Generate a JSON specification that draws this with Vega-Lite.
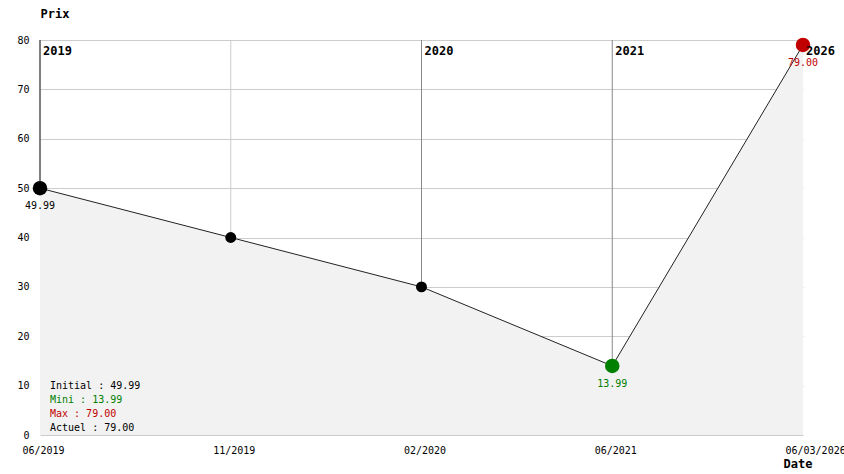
{
  "$schema": "https://vega.github.io/schema/vega-lite/v6.json",
  "width": 763,
  "height": 395,
  "autosize": {"type": "none"},
  "padding": {"left": 40, "top": 40, "right": 41, "bottom": 39},
  "background": "white",
  "config": {
    "font": "DejaVu Sans Mono",
    "view": {"stroke": null},
    "text": {"font": "DejaVu Sans Mono", "fontSize": 10}
  },
  "data": {
    "values": [
      {"date": "06/2019", "prix": 49.99, "role": "initial", "year": "2019", "label": "49.99"},
      {"date": "11/2019", "prix": 40, "role": "normal", "year": null, "label": null},
      {"date": "02/2020", "prix": 30, "role": "normal", "year": "2020", "label": null},
      {"date": "06/2021", "prix": 13.99, "role": "min", "year": "2021", "label": "13.99"},
      {"date": "06/03/2026", "prix": 79.0, "role": "max", "year": "2026", "label": "79.00"}
    ]
  },
  "encoding": {
    "x": {
      "field": "date", "type": "ordinal", "sort": null,
      "scale": {"type": "point", "padding": 0},
      "axis": {
        "title": "Date", "grid": false, "domain": false, "ticks": false,
        "labelAngle": 0, "labelAlign": "left", "labelOffset": -18, "labelPadding": 10,
        "labelFontSize": 10, "labelColor": "black", "labelOverlap": false, "labelBound": false,
        "titleFontWeight": "bold", "titleFontSize": 12, "titleColor": "black",
        "titleX": 743, "titleY": 28, "titleAlign": "left", "titleBaseline": "middle"
      }
    }
  },
  "layer": [
    {
      "mark": {"type": "rule", "strokeWidth": 1},
      "encoding": {
        "y": {
          "field": "prix", "type": "quantitative",
          "scale": {"domain": [0, 80], "nice": false},
          "axis": {
            "title": "Prix", "values": [0, 10, 20, 30, 40, 50, 60, 70, 80],
            "grid": true, "gridColor": "#cccccc", "domain": false, "ticks": false,
            "labelPadding": 11, "labelFontSize": 10, "labelColor": "black",
            "titleAngle": 0, "titleAlign": "left", "titleBaseline": "middle",
            "titleX": 0, "titleY": -27, "titleFontWeight": "bold", "titleFontSize": 12, "titleColor": "black"
          }
        },
        "y2": {"datum": 80},
        "color": {
          "condition": [
            {"test": "datum.role == 'initial'", "value": "black"},
            {"test": "datum.year == null", "value": "#cccccc"}
          ],
          "value": "#888888"
        }
      }
    },
    {
      "mark": {"type": "area", "color": "#f2f2f2", "opacity": 1},
      "encoding": {
        "y": {"field": "prix", "type": "quantitative"}
      }
    },
    {
      "mark": {"type": "line", "color": "#222222", "strokeWidth": 1},
      "encoding": {
        "y": {"field": "prix", "type": "quantitative"}
      }
    },
    {
      "mark": {"type": "point", "filled": true, "opacity": 1},
      "encoding": {
        "y": {"field": "prix", "type": "quantitative"},
        "color": {
          "field": "role", "type": "nominal",
          "scale": {"domain": ["initial", "normal", "min", "max"], "range": ["black", "black", "#008000", "#c00000"]},
          "legend": null
        },
        "size": {
          "condition": {"test": "datum.role == 'normal'", "value": 120},
          "value": 210
        }
      }
    },
    {
      "transform": [{"filter": "datum.label != null"}],
      "mark": {"type": "text", "dy": 18, "align": "center", "baseline": "middle", "fontSize": 10},
      "encoding": {
        "y": {"field": "prix", "type": "quantitative"},
        "text": {"field": "label"},
        "color": {"field": "role", "type": "nominal", "legend": null}
      }
    },
    {
      "transform": [{"filter": "datum.year != null"}],
      "mark": {"type": "text", "dx": 3, "dy": 11, "align": "left", "baseline": "middle", "fontSize": 12, "fontWeight": "bold", "color": "black"},
      "encoding": {
        "y": {"datum": 80, "type": "quantitative"},
        "text": {"field": "year"}
      }
    },
    {
      "data": {"values": [{"date": "06/2019"}]},
      "mark": {"type": "text", "dx": 10, "dy": -49, "align": "left", "baseline": "middle", "fontSize": 10, "color": "black"},
      "encoding": {"y": {"datum": 0, "type": "quantitative"}, "text": {"value": "Initial : 49.99"}}
    },
    {
      "data": {"values": [{"date": "06/2019"}]},
      "mark": {"type": "text", "dx": 10, "dy": -35, "align": "left", "baseline": "middle", "fontSize": 10, "color": "#008000"},
      "encoding": {"y": {"datum": 0, "type": "quantitative"}, "text": {"value": "Mini : 13.99"}}
    },
    {
      "data": {"values": [{"date": "06/2019"}]},
      "mark": {"type": "text", "dx": 10, "dy": -21, "align": "left", "baseline": "middle", "fontSize": 10, "color": "#c00000"},
      "encoding": {"y": {"datum": 0, "type": "quantitative"}, "text": {"value": "Max : 79.00"}}
    },
    {
      "data": {"values": [{"date": "06/2019"}]},
      "mark": {"type": "text", "dx": 10, "dy": -7, "align": "left", "baseline": "middle", "fontSize": 10, "color": "black"},
      "encoding": {"y": {"datum": 0, "type": "quantitative"}, "text": {"value": "Actuel : 79.00"}}
    }
  ]
}
